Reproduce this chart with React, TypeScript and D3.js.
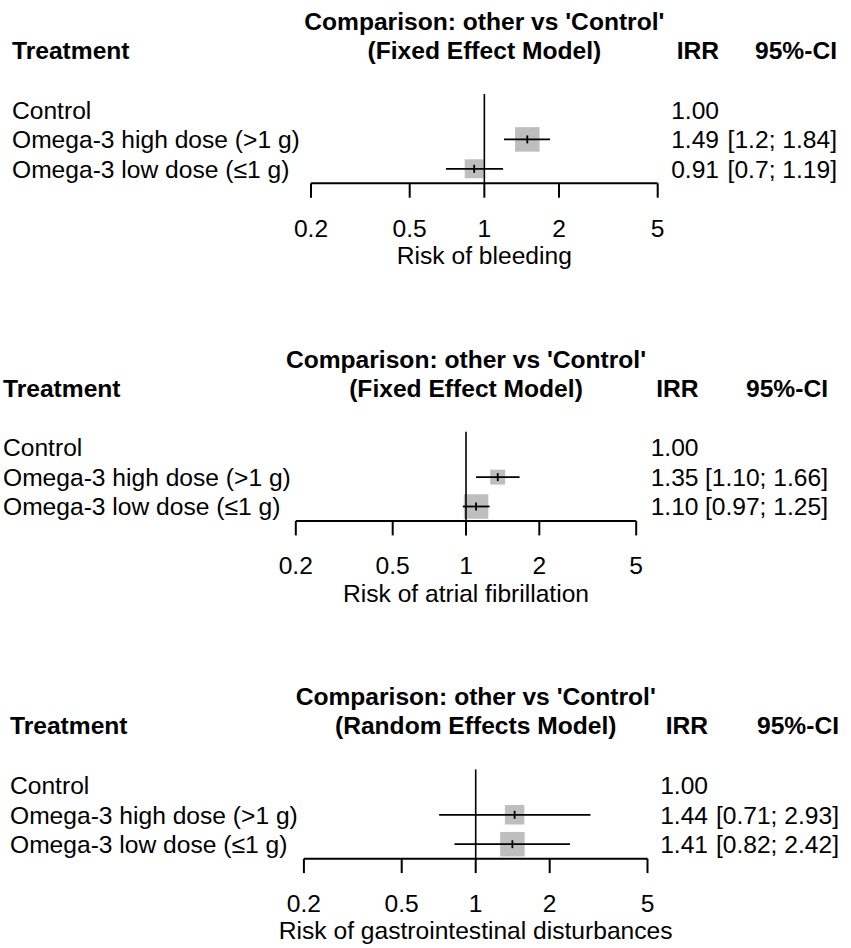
import React from "react";
import * as d3 from "d3";

// rows shared by every panel
const treatments = ["Control", "Omega-3 high dose (>1 g)", "Omega-3 low dose (≤1 g)"];
const xTicks = [0.2, 0.5, 1, 2, 5];

const outcomes = ["Risk of bleeding", "Risk of atrial fibrillation", "Risk of gastrointestinal disturbances"];
const models = ["(Fixed Effect Model)", "(Fixed Effect Model)", "(Random Effects Model)"];

// IRR, CI and relative weight per outcome (Control is reference)
const bleedingIRR = [1.0, 1.49, 0.91];
const bleedingLower = [null, 1.2, 0.7];
const bleedingUpper = [null, 1.84, 1.19];
const bleedingCI = ["", "[1.2; 1.84]", "[0.7; 1.19]"];
const bleedingWeight = [null, 1.0, 0.6];

const afibIRR = [1.0, 1.35, 1.1];
const afibLower = [null, 1.1, 0.97];
const afibUpper = [null, 1.66, 1.25];
const afibCI = ["", "[1.10; 1.66]", "[0.97; 1.25]"];
const afibWeight = [null, 0.37, 1.0];

const giIRR = [1.0, 1.44, 1.41];
const giLower = [null, 0.71, 0.82];
const giUpper = [null, 2.93, 2.42];
const giCI = ["", "[0.71; 2.93]", "[0.82; 2.42]"];
const giWeight = [null, 0.63, 1.0];

const panels = [
  { irr: bleedingIRR, lo: bleedingLower, hi: bleedingUpper, ci: bleedingCI, w: bleedingWeight,
    y0: 0, labelX: 12, x0: 311, x1: 657.7, irrRight: 719, ciRight: 837 },
  { irr: afibIRR, lo: afibLower, hi: afibUpper, ci: afibCI, w: afibWeight,
    y0: 337.7, labelX: 3, x0: 295.8, x1: 636.2, irrRight: 698.5, ciRight: 828 },
  { irr: giIRR, lo: giLower, hi: giUpper, ci: giCI, w: giWeight,
    y0: 675.4, labelX: 10, x0: 303.9, x1: 647.5, irrRight: 708, ciRight: 839 },
];

const font = "'Liberation Sans', Arial, sans-serif";
const fmt = d3.format(".2f");

const Forest = ({ p, idx }) => {
  const x = d3.scaleLog().domain([0.2, 5]).range([p.x0, p.x1]);
  const y = d3.scaleLinear().domain([0, 2]).range([110, 168.8]);
  const size = d3.scaleSqrt().domain([0, 1]).range([0, 24.5]);
  const axisY = 183.3;
  const mid = (p.x0 + p.x1) / 2;

  return (
    <g transform={`translate(0,${p.y0})`} fontFamily={font} fontSize={24.6} fill="#000">
      <text x={mid} y={30} textAnchor="middle" fontWeight="bold">Comparison: other vs 'Control'</text>
      <text x={mid} y={59} textAnchor="middle" fontWeight="bold">{models[idx]}</text>
      <text x={p.labelX} y={59} fontWeight="bold">Treatment</text>
      <text x={p.irrRight} y={59} textAnchor="end" fontWeight="bold">IRR</text>
      <text x={p.ciRight} y={59} textAnchor="end" fontWeight="bold">95%-CI</text>

      {treatments.map((t, i) => (
        <g key={t}>
          <text x={p.labelX} y={y(i) + 8.8}>{t}</text>
          <text x={p.irrRight} y={y(i) + 8.8} textAnchor="end">{fmt(p.irr[i])}</text>
          <text x={p.ciRight} y={y(i) + 8.8} textAnchor="end">{p.ci[i]}</text>
        </g>
      ))}

      {treatments.map((t, i) => {
        if (p.lo[i] === null) return null;
        const s = size(p.w[i]);
        const cx = x(p.irr[i]);
        return (
          <g key={"m" + i}>
            <rect x={cx - s / 2} y={y(i) - s / 2} width={s} height={s} fill="#bebebe" />
            <line x1={x(p.lo[i])} x2={x(p.hi[i])} y1={y(i)} y2={y(i)} stroke="#000" strokeWidth={1.8} />
            <line x1={cx} x2={cx} y1={y(i) - 4} y2={y(i) + 4} stroke="#000" strokeWidth={1.8} />
          </g>
        );
      })}

      <line x1={x(1)} x2={x(1)} y1={94} y2={axisY} stroke="#000" strokeWidth={1.6} />

      <line x1={p.x0} x2={p.x1} y1={axisY} y2={axisY} stroke="#000" strokeWidth={2} />
      {xTicks.map((t) => (
        <g key={t}>
          <line x1={x(t)} x2={x(t)} y1={axisY} y2={axisY + 14.4} stroke="#000" strokeWidth={2} />
          <text x={x(t)} y={236.7} textAnchor="middle">{String(t)}</text>
        </g>
      ))}
      <text x={mid} y={264} textAnchor="middle">{outcomes[idx]}</text>
    </g>
  );
};

export default function App() {
  return (
    <svg width={851} height={948} style={{ position: "absolute", left: 0, top: 0, background: "#fff" }}>
      <rect width={851} height={948} fill="#fff" />
      {panels.map((p, i) => (
        <Forest key={i} p={p} idx={i} />
      ))}
    </svg>
  );
}
